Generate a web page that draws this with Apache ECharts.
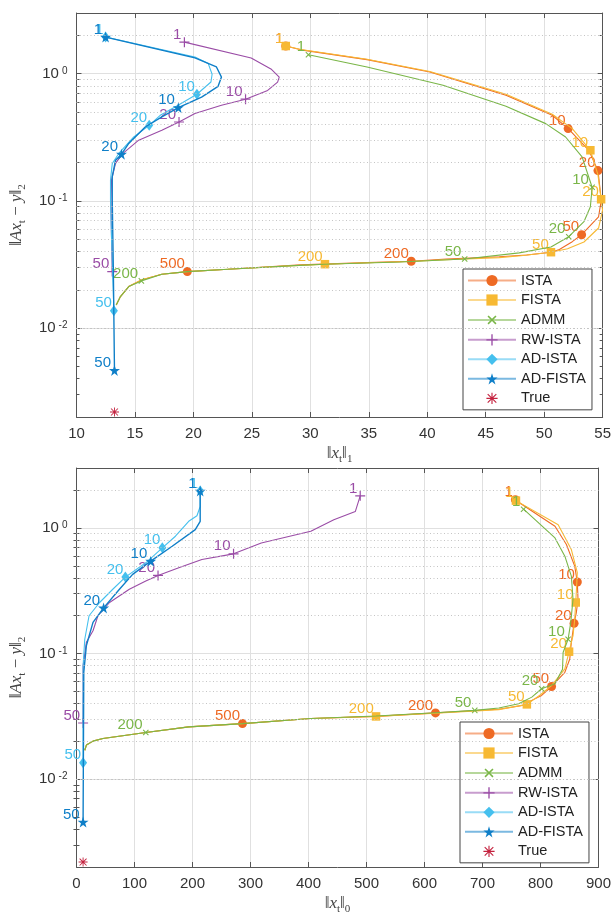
<!DOCTYPE html>
<html><head><meta charset="utf-8">
<script src="https://cdn.jsdelivr.net/npm/echarts@6/dist/echarts.min.js"></script>
<style>html,body{margin:0;padding:0;background:#fff}#c{width:614px;height:916px}</style>
</head><body><div id="c"></div>
<script>
// ---------------- data ----------------
const seriesNames = ['ISTA', 'FISTA', 'ADMM', 'RW-ISTA', 'AD-ISTA', 'AD-FISTA', 'True'];
const colors = ['#EE6A24', '#F7B933', '#7AB648', '#9A4CA6', '#45C0EE', '#0F7FC8', '#C4223F'];
const yMajorTicks = [0.01, 0.1, 1];
const yMinorTicks = [0.003, 0.004, 0.005, 0.006, 0.007, 0.008, 0.009,
  0.02, 0.03, 0.04, 0.05, 0.06, 0.07, 0.08, 0.09,
  0.2, 0.3, 0.4, 0.5, 0.6, 0.7, 0.8, 0.9, 2];
const yRange = [0.002, 3];
const xRangeL1 = [10, 55], xIntervalL1 = 5;
const xRangeL0 = [0, 900], xIntervalL0 = 100;

// each point: [x, residual, iteration label (optional)]
const istaL1 = [[27.9,1.65,1],[29.19,1.54],[34.85,1.29],[40.22,1.03],[46.73,0.676],[50.69,0.471],[52.05,0.37,10],
  [53.8,0.251],[54.6,0.173,20],[54.88,0.101],[54.65,0.075],[53.2,0.0542,50],[52.4,0.0478],[51.3,0.0415],[50.6,0.0395],
  [48.5,0.0375],[46.16,0.0364],[41.64,0.0349],[38.63,0.0335,200],[34.85,0.0327],[29.19,0.0314],[22.96,0.029],
  [19.48,0.0278,500],[17.3,0.0265],[15.6,0.024],[14.47,0.0212],[13.76,0.0177],[13.4,0.0152]];
const fistaL1 = [[27.9,1.65,1],[29.19,1.55],[34.85,1.30],[40.22,1.04],[46.73,0.69],[50.69,0.48],[52.4,0.37],
  [53.95,0.25,10],[54.6,0.16],[54.87,0.103,20],[54.99,0.0845],[54.65,0.0612],[53.4,0.0475],[52.0,0.042],
  [50.58,0.0395,50],[48.0,0.037],[46.16,0.0358],[41.64,0.0345],[38.63,0.0334],[34.85,0.0326],[31.25,0.0318,200],
  [28.6,0.031],[22.96,0.029],[19.48,0.0278],[17.3,0.0265],[15.6,0.024],[14.47,0.0212],[13.76,0.0177],[13.4,0.0152]];
const admmL1 = [[29.84,1.41,1],[34.85,1.13],[41.35,0.81],[46.73,0.554],[50.13,0.405],[51.83,0.318],[53.24,0.222],
  [54.1,0.128,10],[53.95,0.09],[53.4,0.0686],[52.1,0.0523,20],[50.58,0.0434],[47.86,0.039],[43.2,0.0349,50],
  [37.67,0.0331],[31.2,0.0318],[28.6,0.031],[22.96,0.029],[19.48,0.0278],[17.3,0.0265],[15.55,0.0235,200],
  [14.47,0.0212],[13.76,0.0177],[13.4,0.0152]];
const rwIstaL1 = [[19.23,1.77,1],[24.94,1.33],[26.63,1.09],[27.34,0.94],[27.2,0.859],[26.35,0.739],[24.46,0.63,10],
  [22.4,0.564],[20.13,0.486],[18.77,0.417,20],[17.3,0.359],[15.32,0.30],[13.9,0.233],[13.34,0.197],[13.0,0.146],
  [12.95,0.101],[13.0,0.05],[13.06,0.0278,50]];
const adIstaL1 = [[12.49,1.94,1],[20.13,1.35],[21.27,1.2],[21.6,0.99],[21.5,0.86],[20.3,0.689,10],[18.43,0.547],
  [17.16,0.471],[16.22,0.393,20],[14.9,0.318],[13.62,0.236],[13.06,0.197],[12.91,0.146],[12.91,0.101],[13.0,0.05],
  [13.2,0.0137,50]];
const adFistaL1 = [[12.49,1.94,1],[20.13,1.33],[21.97,1.13],[22.4,0.94],[22.11,0.795],[20.7,0.655],[18.71,0.541,10],
  [17.3,0.457],[15.88,0.381],[14.47,0.283],[13.85,0.233,20],[13.34,0.209],[13.06,0.155],[13.06,0.101],[13.15,0.03],
  [13.25,0.00465,50]];
const trueL1 = [[13.25,0.00219]];

const istaL0 = [[756.7,1.68,1],[762.3,1.6],[825,1.03],[844.7,0.738],[859,0.497],[863.5,0.371,10],[864.7,0.271],
  [861.8,0.212],[857.9,0.174,20],[853.2,0.123],[850.5,0.0906],[842,0.071],[819.1,0.0547,50],[802,0.0464],[785,0.0424],
  [773.7,0.039],[728.2,0.036],[619,0.0337,200],[516.5,0.0316],[403.9,0.0304],[286.2,0.0277,500],[193.5,0.0261],
  [119.5,0.0235],[45.6,0.0211],[28.5,0.0201],[17.1,0.0187],[14.3,0.017]];
const fistaL0 = [[757.7,1.65,1],[830.5,1.06],[853.2,0.673],[863.5,0.44],[860.8,0.255,10],[859,0.188],[856.1,0.139],
  [849.3,0.1035,20],[842,0.0755],[819.1,0.0557],[800,0.047],[776.5,0.0394,50],[728.2,0.0358],[619,0.0335],
  [516.5,0.0316,200],[403.9,0.0304],[286.2,0.0277],[193.5,0.0261],[119.5,0.0235],[45.6,0.0211],[28.5,0.0201],
  [17.1,0.0187],[14.3,0.017]];
const admmL0 = [[770.8,1.41,1],[825,0.833],[842,0.596],[853.2,0.414],[856.1,0.271],[852.2,0.177],[847.6,0.13,10],
  [839,0.102],[838,0.075],[825,0.0574],[802,0.0525,20],[785,0.045],[762.3,0.0399],[728.2,0.0369],[686.7,0.0353,50],
  [619,0.0338],[516.5,0.0318],[403.9,0.0304],[286.2,0.0277],[193.5,0.0261],[119.5,0.0235,200],[45.6,0.0211],
  [28.5,0.0201],[17.1,0.0187],[14.3,0.017]];
const rwIstaL0 = [[489.2,1.8,1],[480.7,1.35],[443.7,1.16],[404,0.94],[318.6,0.76],[270.8,0.622,10],[216.2,0.561],
  [176.4,0.482],[140.6,0.419,20],[119.5,0.378],[91.1,0.325],[57,0.255],[37,0.2],[28.5,0.152],[17.1,0.123],
  [11.4,0.08],[11.4,0.028,50]];
const adIstaL0 = [[213.3,1.97,1],[213.3,1.48],[207.7,1.25],[193.5,1.13],[170.6,0.859],[148,0.695,10],[119.5,0.528],
  [84.3,0.406,20],[62.6,0.325],[39.9,0.255],[21.7,0.2],[14.3,0.13],[11.4,0.08],[11.4,0.0135,50]];
const adFistaL0 = [[213.3,1.97,1],[213.3,1.13],[204.8,0.97],[165,0.715],[128,0.544,10],[96.8,0.427],[74.1,0.325],
  [46.8,0.231,20],[28.5,0.177],[17.1,0.116],[12.6,0.071],[11.4,0.00456,50]];
const trueL0 = [[11.4,0.00219]];

const plotL1 = [istaL1, fistaL1, admmL1, rwIstaL1, adIstaL1, adFistaL1, trueL1];
const plotL0 = [istaL0, fistaL0, admmL0, rwIstaL0, adIstaL0, adFistaL0, trueL0];

// ---------------- styles ----------------
const PLUS = 'path://M4.4,0H5.6V4.4H10V5.6H5.6V10H4.4V5.6H0V4.4H4.4Z';
const XMARK = 'path://M4.3,0H5.7V4.3H10V5.7H5.7V10H4.3V5.7H0V4.3H4.3Z';
const STAR = 'path://M5,0L6.123,3.455L9.755,3.455L6.817,5.59L7.939,9.045L5,6.91L2.061,9.045L3.183,5.59L0.245,3.455L3.877,3.455Z';
const ASTER = 'path://M0,4.5H10V5.5H0ZM4.5,0H5.5V10H4.5ZM1.5,0.8L9.2,8.5L8.5,9.2L0.8,1.5ZM9.2,1.5L1.5,9.2L0.8,8.5L8.5,0.8Z';
const symbols = [
  {type: 'circle', size: 9, rot: 0},
  {type: 'rect', size: 8.5, rot: 0},
  {type: XMARK, size: 7.5, rot: 45},
  {type: PLUS, size: 10, rot: 0},
  {type: 'diamond', size: [8, 11], rot: 0},
  {type: STAR, size: 11, rot: 0},
  {type: ASTER, size: 9, rot: 0}
];
const lineWidths = [1.1, 1.1, 1.1, 1.1, 1.1, 1.4, 0];
const AX = '#555';
const TXT = '#333';
const FONT = 'Liberation Sans';
const SERIF = 'Liberation Serif';

function mathRich(size) {
  return {
    n: {fontFamily: SERIF, fontSize: size, color: '#444', lineHeight: size + 6},
    i: {fontFamily: SERIF, fontSize: size, fontStyle: 'italic', color: '#444', lineHeight: size + 6},
    s: {fontFamily: SERIF, fontSize: Math.round(size * 0.65), color: '#444', verticalAlign: 'bottom', lineHeight: size + 6}
  };
}
const yName = '{n|‖}{i|Ax}{s|t}{n| − }{i|y}{n|‖}{s|2}';

function logLabel(v) {
  const l = Math.log10(v);
  const e = Math.round(l);
  if (Math.abs(l - e) > 1e-6) return '';
  return '{b|10}{p|' + e + '}';
}

function xAxes(gi, range, interval, nameStr) {
  const base = {gridIndex: gi, type: 'value', min: range[0], max: range[1], interval: interval,
    axisLine: {show: true, onZero: false, lineStyle: {color: AX, width: 1}},
    axisTick: {show: true, inside: true, length: 5, lineStyle: {color: AX}}};
  return [
    Object.assign({}, base, {position: 'bottom',
      axisLabel: {show: true, color: TXT, fontSize: 15, fontFamily: FONT, margin: 9},
      splitLine: {show: true, lineStyle: {color: '#E0E0E0', width: 1}},
      name: nameStr, nameLocation: 'middle', nameGap: 25,
      nameTextStyle: {rich: mathRich(17)}}),
    Object.assign({}, base, {position: 'top', axisLabel: {show: false}, splitLine: {show: false}})
  ];
}
function yAxes(gi) {
  const base = {gridIndex: gi, type: 'log', logBase: 10, min: yRange[0], max: yRange[1],
    axisLine: {show: true, onZero: false, lineStyle: {color: AX, width: 1}}};
  return [
    Object.assign({}, base, {position: 'left',
      axisTick: {show: true, inside: true, length: 5, lineStyle: {color: AX}, customValues: yMajorTicks},
      axisLabel: {show: true, formatter: logLabel, margin: 9, customValues: yMajorTicks,
        rich: {b: {fontSize: 15, fontFamily: FONT, color: TXT}, p: {fontSize: 10, fontFamily: FONT, color: TXT, verticalAlign: 'top', padding: [0, 0, 0, 3]}}},
      splitLine: {show: true, lineStyle: {color: '#E0E0E0', width: 1}},
      name: yName, nameLocation: 'middle', nameRotate: 90, nameGap: 42,
      nameTextStyle: {rich: mathRich(17)}}),
    Object.assign({}, base, {position: 'right',
      axisTick: {show: true, inside: true, length: 5, lineStyle: {color: AX}, customValues: yMajorTicks},
      axisLabel: {show: false}, splitLine: {show: false}}),
    Object.assign({}, base, {position: 'left', axisLine: {show: false},
      axisTick: {show: true, inside: true, length: 3, lineStyle: {color: AX}, customValues: yMinorTicks},
      axisLabel: {show: false}, splitLine: {show: false}}),
    Object.assign({}, base, {position: 'right', axisLine: {show: false},
      axisTick: {show: true, inside: true, length: 3, lineStyle: {color: AX}, customValues: yMinorTicks},
      axisLabel: {show: false}, splitLine: {show: false}})
  ];
}

function buildSeries(gi, plot, xmin) {
  const out = [];
  out.push({type: 'line', name: '_grid' + gi, xAxisIndex: gi * 2, yAxisIndex: gi * 4, z: 1,
    data: [[xmin, 1]], symbol: 'none', lineStyle: {opacity: 0}, silent: true,
    markLine: {silent: true, symbol: ['none', 'none'], animation: false, label: {show: false},
      lineStyle: {type: [1, 2.5], color: '#C4C4C4', width: 1},
      emphasis: {disabled: true},
      data: yMinorTicks.map(v => ({yAxis: v}))}});
  plot.forEach((arr, k) => {
    const c = colors[k], s = symbols[k];
    out.push({
      type: 'line', name: seriesNames[k], xAxisIndex: gi * 2, yAxisIndex: gi * 4, z: 2 + k * 0.01,
      symbol: s.type, symbolSize: s.size, symbolRotate: s.rot, showSymbol: true,
      lineStyle: {color: c, width: lineWidths[k], opacity: lineWidths[k] ? 1 : 0},
      itemStyle: {color: c},
      emphasis: {disabled: true}, animation: false,
      label: {show: false, position: 'left', distance: 0, verticalAlign: 'bottom', offset: [2, 0],
        color: c, fontSize: 15, fontFamily: FONT},
      data: arr.map(p => (p[2] || k === 6)
        ? {value: [p[0], p[1]], label: {show: !!p[2], formatter: String(p[2] || '')}}
        : {value: [p[0], p[1]], symbol: 'none'})
    });
  });
  return out;
}

function legend(left, top) {
  return {left: left, top: top, orient: 'vertical', selectedMode: false,
    backgroundColor: '#fff', borderColor: '#444', borderWidth: 1, borderRadius: 0,
    padding: [4, 6, 4, 4], itemGap: 4.5, itemWidth: 48, itemHeight: 14,
    textStyle: {fontSize: 14.5, fontFamily: FONT, color: '#222'},
    lineStyle: {width: 2, opacity: 0.55},
    data: seriesNames.map((n, k) => k === 6 ? {name: n, lineStyle: {opacity: 0}} : {name: n})};
}

const chart = echarts.init(document.getElementById('c'), null, {renderer: 'canvas'});
chart.setOption({
  animation: false,
  backgroundColor: '#fff',
  grid: [
    {left: 74, top: 13, width: 530, height: 404},
    {left: 73, top: 468, width: 528, height: 401}
  ],
  xAxis: [].concat(xAxes(0, xRangeL1, xIntervalL1, '{n|‖}{i|x}{s|t}{n|‖}{s|1}'),
                   xAxes(1, xRangeL0, xIntervalL0, '{n|‖}{i|x}{s|t}{n|‖}{s|0}')),
  yAxis: [].concat(yAxes(0), yAxes(1)),
  legend: [legend(463, 269), legend(460, 722)],
  series: [].concat(buildSeries(0, plotL1, xRangeL1[0]), buildSeries(1, plotL0, xRangeL0[0]))
});
</script></body></html>
